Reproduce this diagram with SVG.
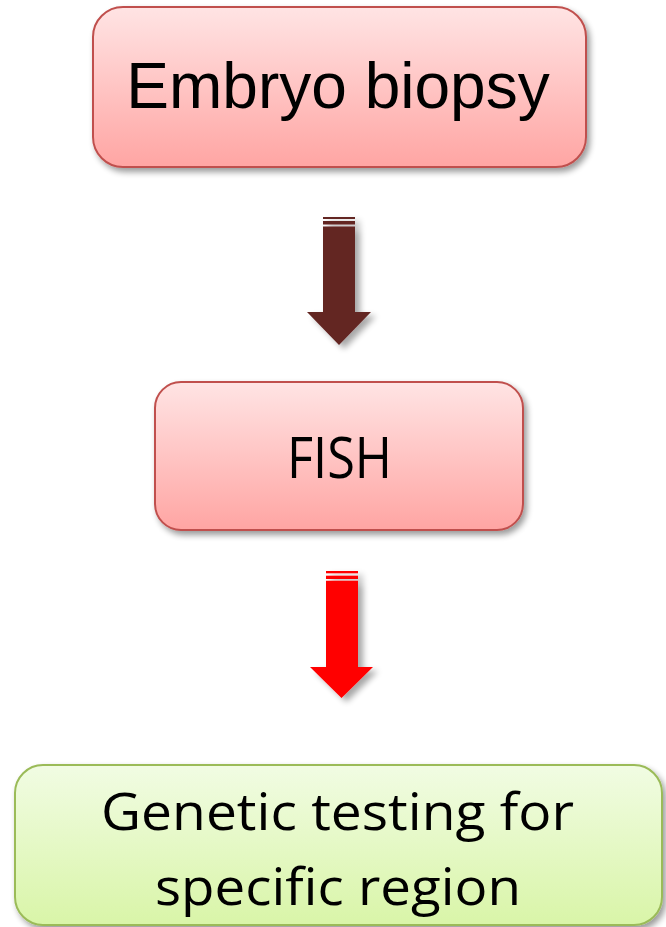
<svg xmlns="http://www.w3.org/2000/svg" width="666" height="927" viewBox="0 0 666 927">
  <defs>
    <linearGradient id="gradRed" x1="0" y1="0" x2="0" y2="1">
      <stop offset="0" stop-color="#ffe4e4"/>
      <stop offset="1" stop-color="#ffa5a3"/>
    </linearGradient>
    <linearGradient id="gradGreen" x1="0" y1="0" x2="0" y2="1">
      <stop offset="0" stop-color="#f1fce3"/>
      <stop offset="1" stop-color="#d9f5a8"/>
    </linearGradient>
    <filter id="shadow" x="-10%" y="-10%" width="130%" height="140%">
      <feGaussianBlur in="SourceAlpha" stdDeviation="3"/>
      <feOffset dx="3" dy="4" result="blur"/>
      <feComponentTransfer>
        <feFuncA type="linear" slope="0.4"/>
      </feComponentTransfer>
      <feMerge>
        <feMergeNode/>
        <feMergeNode in="SourceGraphic"/>
      </feMerge>
    </filter>
    <filter id="arrowShadow" x="-30%" y="-10%" width="180%" height="130%">
      <feGaussianBlur in="SourceAlpha" stdDeviation="3"/>
      <feOffset dx="5" dy="4" result="blur"/>
      <feComponentTransfer>
        <feFuncA type="linear" slope="0.35"/>
      </feComponentTransfer>
      <feMerge>
        <feMergeNode/>
        <feMergeNode in="SourceGraphic"/>
      </feMerge>
    </filter>
  </defs>
  <style>
    .redBox { fill: url(#gradRed); stroke: #c0504d; stroke-width: 2; filter: url(#shadow); }
    .greenBox { fill: url(#gradGreen); stroke: #9bbb59; stroke-width: 2; filter: url(#shadow); }
    .arial { font-family: "Liberation Sans", Arial, sans-serif; fill: #000; }
    .calibri { font-family: "Open Sans", "Noto Sans", sans-serif; fill: #000; }
  </style>

  <rect width="666" height="927" fill="#ffffff"/>

  <g id="node-embryo-biopsy">
    <rect class="redBox" x="93" y="7" width="493" height="160" rx="30" ry="30"/>
    <text class="arial" x="338" y="108" font-size="64" text-anchor="middle">Embryo biopsy</text>
  </g>

  <g id="node-fish">
    <rect class="redBox" x="155" y="382" width="368" height="148" rx="26" ry="26"/>
    <text class="calibri" x="339.5" y="478" font-size="56" text-anchor="middle" textLength="105" lengthAdjust="spacingAndGlyphs">FISH</text>
  </g>

  <g id="node-genetic-testing">
    <rect class="greenBox" x="15" y="765" width="647" height="160" rx="28" ry="28"/>
    <text class="calibri" x="337.5" y="830" font-size="52" text-anchor="middle" textLength="473" lengthAdjust="spacingAndGlyphs">Genetic testing for</text>
    <text class="calibri" x="338" y="905" font-size="52" text-anchor="middle" textLength="366" lengthAdjust="spacingAndGlyphs">specific region</text>
  </g>

  <g id="connectors">
    <g id="arrow-biopsy-fish" fill="#632523" filter="url(#arrowShadow)">
      <rect x="323" y="217" width="32" height="2"/>
      <rect x="323" y="221" width="32" height="3.5"/>
      <path d="M323 226.5 H355 V312 H371 L339 345 L307 312 H323 Z"/>
    </g>
    <g id="arrow-fish-testing" fill="#ff0000" filter="url(#arrowShadow)">
      <rect x="326" y="571" width="32" height="2.3"/>
      <rect x="326" y="575.7" width="32" height="3.3"/>
      <path d="M326 580.7 H358 V667 H373 L341.5 698 L310 667 H326 Z"/>
    </g>
  </g>
</svg>
